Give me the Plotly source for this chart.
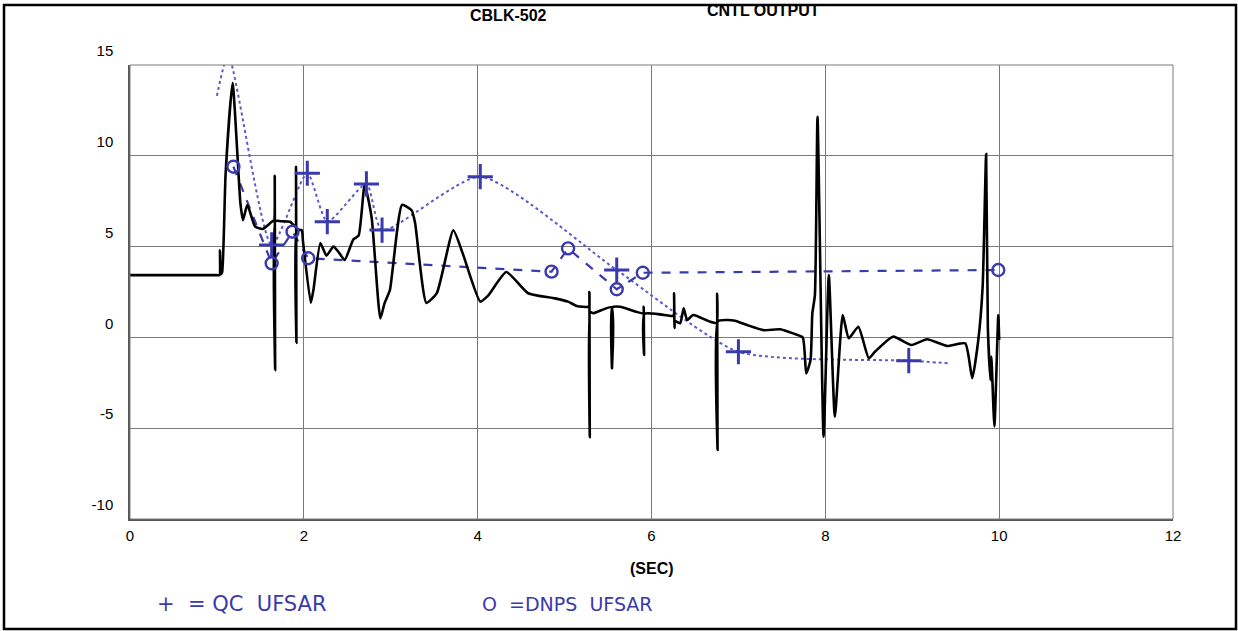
import plotly.graph_objects as go

# ---- data ----
cntl_t = [0, 0.5, 0.9, 1.0, 1.03, 1.035, 1.045, 1.06, 1.10, 1.18, 1.27, 1.30, 1.35, 1.44, 1.53, 1.65,
          1.66, 1.665, 1.67, 1.675, 1.73, 1.84, 1.90, 1.905, 1.91, 1.915, 1.92,
          1.976, 1.99, 2.08, 2.11, 2.19, 2.26, 2.34, 2.40, 2.47, 2.57, 2.63, 2.70, 2.78,
          2.88, 2.93, 2.99, 3.13, 3.24, 3.28, 3.41, 3.53, 3.72, 3.83, 4.03, 4.12, 4.33,
          4.58, 4.89, 5.04, 5.14, 5.28, 5.285, 5.29, 5.295, 5.33, 5.54, 5.545, 5.55,
          5.64, 5.905, 5.91, 5.915, 5.92, 6.23, 6.255, 6.26, 6.265, 6.27, 6.33, 6.37,
          6.41, 6.48, 6.67, 6.75, 6.755, 6.76, 6.765, 6.87, 6.96, 7.10, 7.29, 7.48,
          7.63, 7.74, 7.78, 7.83, 7.85, 7.88, 7.91, 7.98, 8.04, 8.11, 8.20, 8.27, 8.38,
          8.50, 8.57, 8.78, 8.99, 9.17, 9.40, 9.61, 9.69, 9.76, 9.81, 9.85, 9.87, 9.90,
          9.91, 9.945, 9.99, 10.0]
cntl_v = [3.43, 3.43, 3.43, 3.43, 3.43, 4.8, 3.5, 3.6, 9.0, 14.0, 7.4, 6.46, 7.3, 6.1, 5.97, 6.43,
          6.4, 8.9, -1.8, 6.4, 6.4, 6.37, 6.1, 6.1, 9.4, -0.3, 5.9,
          5.9, 5.3, 1.9, 2.6, 5.2, 4.5, 5.0, 4.7, 4.26, 5.4, 5.6, 8.4, 6.6,
          1.05, 1.9, 2.6, 7.3, 7.0, 6.3, 1.9, 2.44, 5.9, 4.6, 1.97, 2.3, 3.6,
          2.43, 2.15, 1.97, 1.73, 1.7, 2.5, -5.5, 1.4, 1.33, 1.66, -1.7, 1.66,
          1.69, 1.33, 1.69, -0.97, 1.3, 1.18, 1.2, 2.43, 0.52, 0.9, 0.78, 1.6,
          0.96, 1.23, 0.87, 0.8, 2.4, -6.2, 0.9, 0.96, 0.92, 0.68, 0.4, 0.45,
          0.22, 0.0, -1.98, -1.24, 1.3, 2.33, 12.15, -5.47, 3.43, -4.37, 1.23, -0.05, 0.59,
          -1.15, -0.79, 0.04, -0.42, -0.1, -0.47, -0.33, -2.25, -0.14, 2.8, 10.1, 0.5, -2.35,
          -1.06, -4.9, 1.23, -0.14]

qc_t = [1.0, 1.13, 1.63, 2.04, 2.27, 2.72, 2.90, 4.03, 5.60, 7.00, 8.96, 9.44]
qc_v = [13.3, 15.55, 5.09, 9.04, 6.37, 8.45, 5.91, 8.85, 3.71, -0.79, -1.28, -1.43]
qc_marked = [False, True, True, True, True, True, True, True, True, True, True, False]

dnps_t = [1.19, 1.63, 1.87, 2.05, 4.85, 5.04, 5.60, 5.90, 9.99]
dnps_v = [9.4, 4.08, 5.82, 4.36, 3.62, 4.9, 2.65, 3.56, 3.71]

x_ticks = [0, 2, 4, 6, 8, 10, 12]
y_ticks = [-10, -5, 0, 5, 10, 15]
y_tick_text = ["-10", "-5", "0", "5", "10", "15"]

BLUE = "rgb(58,58,172)"
LBLUE = "rgb(90,90,205)"

fig = go.Figure()

fig.add_trace(go.Scatter(
    x=qc_t, y=qc_v, mode="lines", line=dict(color=LBLUE, width=2, dash="dot", shape="spline", smoothing=0.6),
    hoverinfo="skip", showlegend=False, cliponaxis=False))
fig.add_trace(go.Scatter(
    x=dnps_t, y=dnps_v, mode="lines", line=dict(color=BLUE, width=2.2, dash="dash"),
    hoverinfo="skip", showlegend=False, cliponaxis=False))

fig.add_trace(go.Scatter(
    x=cntl_t, y=cntl_v, mode="lines", line=dict(color="black", width=2.6, shape="spline", smoothing=0.5),
    name="CNTL OUTPUT", showlegend=False))

fig.add_trace(go.Scatter(
    x=[t for t, m in zip(qc_t, qc_marked) if m], y=[v for v, m in zip(qc_v, qc_marked) if m],
    mode="markers", marker=dict(symbol="cross-thin", size=18, line=dict(color=BLUE, width=3)),
    name="QC UFSAR", showlegend=False, cliponaxis=False))
fig.add_trace(go.Scatter(
    x=dnps_t, y=dnps_v, mode="markers",
    marker=dict(symbol="circle-open", size=12, color=BLUE, line=dict(color=BLUE, width=2.4)),
    name="DNPS UFSAR", showlegend=False, cliponaxis=False))

fig.update_layout(
    width=1238, height=631,
    margin=dict(l=130, r=65, t=65, b=112),
    paper_bgcolor="white", plot_bgcolor="white",
    font=dict(family="Liberation Sans, Arial, sans-serif", size=15, color="black"),
    xaxis=dict(range=[0, 12], tickvals=x_ticks, showgrid=True, gridcolor="#7a7a7a", gridwidth=1,
               zeroline=False, showline=True, linecolor="#555", linewidth=1.5, mirror=False,
               ticks="", tickfont=dict(size=15), ticklabelstandoff=2),
    yaxis=dict(range=[-10, 15], tickvals=y_ticks, ticktext=y_tick_text, showgrid=True,
               gridcolor="#7a7a7a", gridwidth=1,
               zeroline=False, showline=True, linecolor="#555", linewidth=1.5,
               ticks="", tickfont=dict(size=15), ticklabelshift=-14, ticklabelstandoff=12),
)

# right and top borders of plot area
fig.add_shape(type="rect", xref="paper", yref="paper", x0=0, y0=0, x1=1, y1=1,
              line=dict(color="#7a7a7a", width=1))
# outer frame
fig.add_shape(type="rect", xref="paper", yref="paper",
              x0=-126 / 1043, x1=(1236 - 130) / 1043, y0=-(629 - 519) / 454, y1=(519 - 5) / 454,
              line=dict(color="black", width=2.5))

fig.add_annotation(text="<b>CBLK-502</b>", xref="paper", yref="paper",
                   x=(508 - 130) / 1043, y=(519 - 16) / 454, showarrow=False,
                   font=dict(size=16), xanchor="center", yanchor="middle")
fig.add_annotation(text="<b>CNTL OUTPUT</b>", xref="paper", yref="paper",
                   x=(763 - 130) / 1043, y=(519 - 11) / 454, showarrow=False,
                   font=dict(size=16), xanchor="center", yanchor="middle")
fig.add_annotation(text="<b>(SEC)</b>", xref="paper", yref="paper",
                   x=(652 - 130) / 1043, y=-(568 - 519) / 454, showarrow=False,
                   font=dict(size=16), xanchor="center", yanchor="middle")
fig.add_annotation(text="+  = QC  UFSAR", xref="paper", yref="paper",
                   x=(155 - 130) / 1043, y=-(604 - 519) / 454, showarrow=False,
                   font=dict(size=21, color=BLUE, family="DejaVu Sans"), xanchor="left", yanchor="middle")
fig.add_annotation(text="O  =DNPS  UFSAR", xref="paper", yref="paper",
                   x=(480 - 130) / 1043, y=-(604 - 519) / 454, showarrow=False,
                   font=dict(size=19, color=BLUE, family="DejaVu Sans"), xanchor="left", yanchor="middle")

fig.write_html("out.html")
